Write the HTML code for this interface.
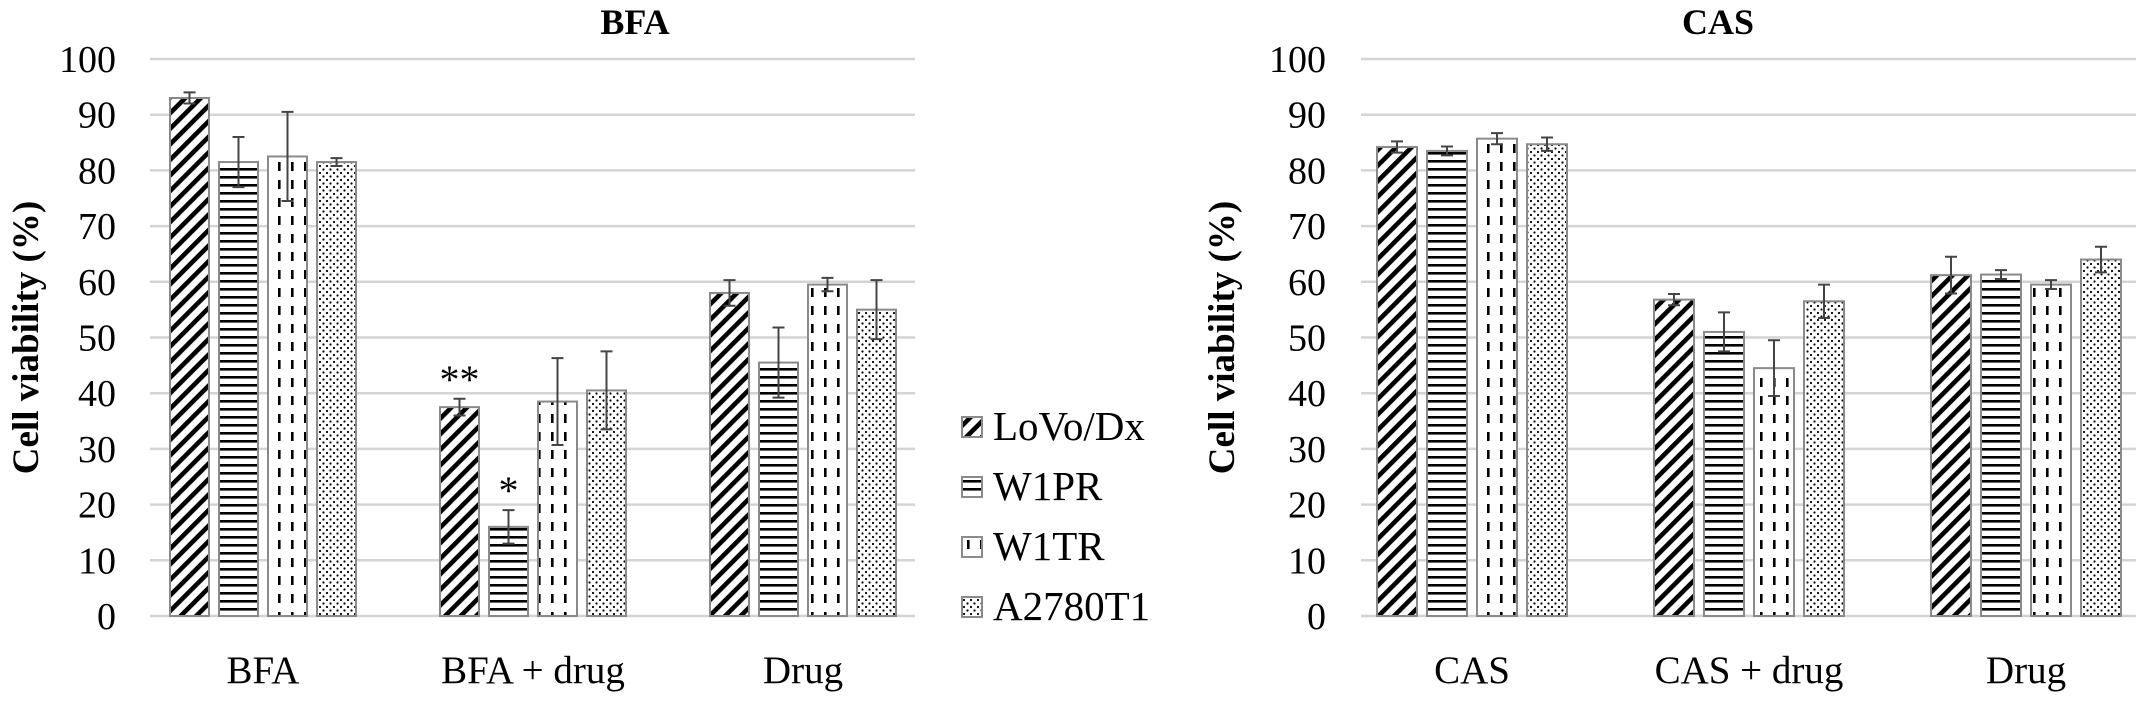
<!DOCTYPE html>
<html><head><meta charset="utf-8">
<style>
html,body{margin:0;padding:0;background:#fff;}
svg{display:block;font-family:"Liberation Serif",serif;}
</style></head>
<body>
<svg id="chart" width="2150" height="706" viewBox="0 0 2150 706" xmlns="http://www.w3.org/2000/svg">
<defs>
<pattern id="p-diag" patternUnits="userSpaceOnUse" width="11" height="11" patternTransform="rotate(45)">
<rect width="11" height="11" fill="#fff"/><rect x="0" y="0" width="4.6" height="11" fill="#000"/>
</pattern>
<pattern id="p-horiz" patternUnits="userSpaceOnUse" width="10" height="8">
<rect width="10" height="8" fill="#fff"/><rect x="0" y="0" width="10" height="2.6" fill="#000"/>
</pattern>
<pattern id="p-dash" patternUnits="userSpaceOnUse" width="13" height="18">
<rect width="13" height="18" fill="#fff"/><rect x="5" y="0" width="2.6" height="9" fill="#000"/>
</pattern>
<pattern id="p-dots" patternUnits="userSpaceOnUse" width="7" height="7">
<rect width="7" height="7" fill="#fff"/><circle cx="1.5" cy="1.5" r="1.1" fill="#000"/><circle cx="5" cy="5" r="1.1" fill="#000"/>
</pattern>
</defs>
<g id="g-left"></g>
<g id="g-right"></g>
<g id="legend"></g>
</svg>
<script>
const seriesNames = ["LoVo/Dx","W1PR","W1TR","A2780T1"];
const yTicks = [0,10,20,30,40,50,60,70,80,90,100];
const bfaCategories = ["BFA","BFA + drug","Drug"];
const bfaLoVo = [93, 37.5, 58];
const bfaW1PR = [81.5, 16, 45.5];
const bfaW1TR = [82.5, 38.5, 59.5];
const bfaA2780 = [81.5, 40.5, 55];
const bfaErrLoVo = [1, 1.5, 2.3];
const bfaErrW1PR = [4.5, 3, 6.3];
const bfaErrW1TR = [8, 7.8, 1.2];
const bfaErrA2780 = [0.7, 7, 5.3];
const bfaStarsLoVo = ["", "**", ""];
const bfaStarsW1PR = ["", "*", ""];
const casCategories = ["CAS","CAS + drug","Drug"];
const casLoVo = [84.2, 56.8, 61.2];
const casW1PR = [83.5, 51, 61.3];
const casW1TR = [85.7, 44.5, 59.5];
const casA2780 = [84.7, 56.5, 64];
const casErrLoVo = [1, 1, 3.3];
const casErrW1PR = [0.8, 3.5, 0.8];
const casErrW1TR = [1, 5, 0.8];
const casErrA2780 = [1.2, 3, 2.3];
const fills = ["url(#p-diag)","url(#p-horiz)","url(#p-dash)","url(#p-dots)"];
const NS = "http://www.w3.org/2000/svg";
function mk(tag, attrs, parent){const e=document.createElementNS(NS,tag);for(const k in attrs)e.setAttribute(k,attrs[k]);parent.appendChild(e);return e;}
const y0=616, y100=59;
function yS(v){return y0-(y0-y100)*v/100;}

function drawChart(g, cfg){
  yTicks.forEach(t=>{
    const l=mk('line',{x1:cfg.gx0,x2:cfg.gx1,y1:yS(t),y2:yS(t),stroke:'#d4d4d4','stroke-width':2.5},g);
    
    
    const tx=mk('text',{x:cfg.labX,y:yS(t)+13,'text-anchor':'end','font-size':38},g);
    tx.textContent=t;
    
    
  });
  const at=mk('text',{x:0,y:0,'text-anchor':'middle','font-size':37,'font-weight':'bold',transform:`translate(${cfg.titleX},${(y0+y100)/2}) rotate(-90)`},g);
  at.textContent='Cell viability (%)';
  
  
  const tt=mk('text',{x:cfg.chartTitleX,y:34,'text-anchor':'middle','font-size':36,'font-weight':'bold'},g);
  tt.textContent=cfg.title;
  
  
  cfg.cats.forEach((c,i)=>{
    const cx=cfg.c0+i*cfg.cStep;
    const lt=mk('text',{x:cx,y:683,'text-anchor':'middle','font-size':39},g);
    lt.textContent=c;
    
    
    cfg.vals.forEach((arr,s)=>{
      const v=arr[i], e=cfg.errs[s][i];
      const bx=cx-2*cfg.step+s*cfg.step+(cfg.step-cfg.bw)/2;
      const r=mk('rect',{x:bx,y:yS(v),width:cfg.bw,height:y0-yS(v),fill:fills[s],stroke:'#8a8a8a','stroke-width':2},g);
      
      
      const mx=bx+cfg.bw/2;
      const eb=mk('path',{d:`M${mx},${yS(v+e)}V${yS(v-e)}M${mx-6},${yS(v+e)}H${mx+6}M${mx-6},${yS(v-e)}H${mx+6}`,stroke:'#444','stroke-width':2,fill:'none'},g);
      
      
      const star = cfg.stars && cfg.stars[s] ? cfg.stars[s][i] : "";
      if(star){
        const st=mk('text',{x:mx,y:yS(v+e)-6,'text-anchor':'middle','font-size':40},g);
        st.textContent=star;
        
        
      }
    });
  });
}
drawChart(document.getElementById('g-left'),{gx0:150,gx1:915,labX:116,titleX:38,chartTitleX:635,title:'BFA',
  cats:bfaCategories,c0:263,cStep:270,step:49,bw:39,
  vals:[bfaLoVo,bfaW1PR,bfaW1TR,bfaA2780],errs:[bfaErrLoVo,bfaErrW1PR,bfaErrW1TR,bfaErrA2780],
  stars:[bfaStarsLoVo,bfaStarsW1PR,null,null]});
drawChart(document.getElementById('g-right'),{gx0:1361,gx1:2136,labX:1326,titleX:1234,chartTitleX:1718,title:'CAS',
  cats:casCategories,c0:1472,cStep:277,step:50,bw:40,
  vals:[casLoVo,casW1PR,casW1TR,casA2780],errs:[casErrLoVo,casErrW1PR,casErrW1TR,casErrA2780],stars:null});
const lg=document.getElementById('legend');
seriesNames.forEach((n,i)=>{
  const y=427+i*60;
  const r=mk('rect',{x:962,y:y-10,width:20,height:20,fill:fills[i],stroke:'#8a8a8a','stroke-width':2},lg);
  
  
  const t=mk('text',{x:993,y:y+13,'font-size':41},lg);
  t.textContent=n;
  
  
});
</script>
</body></html>
